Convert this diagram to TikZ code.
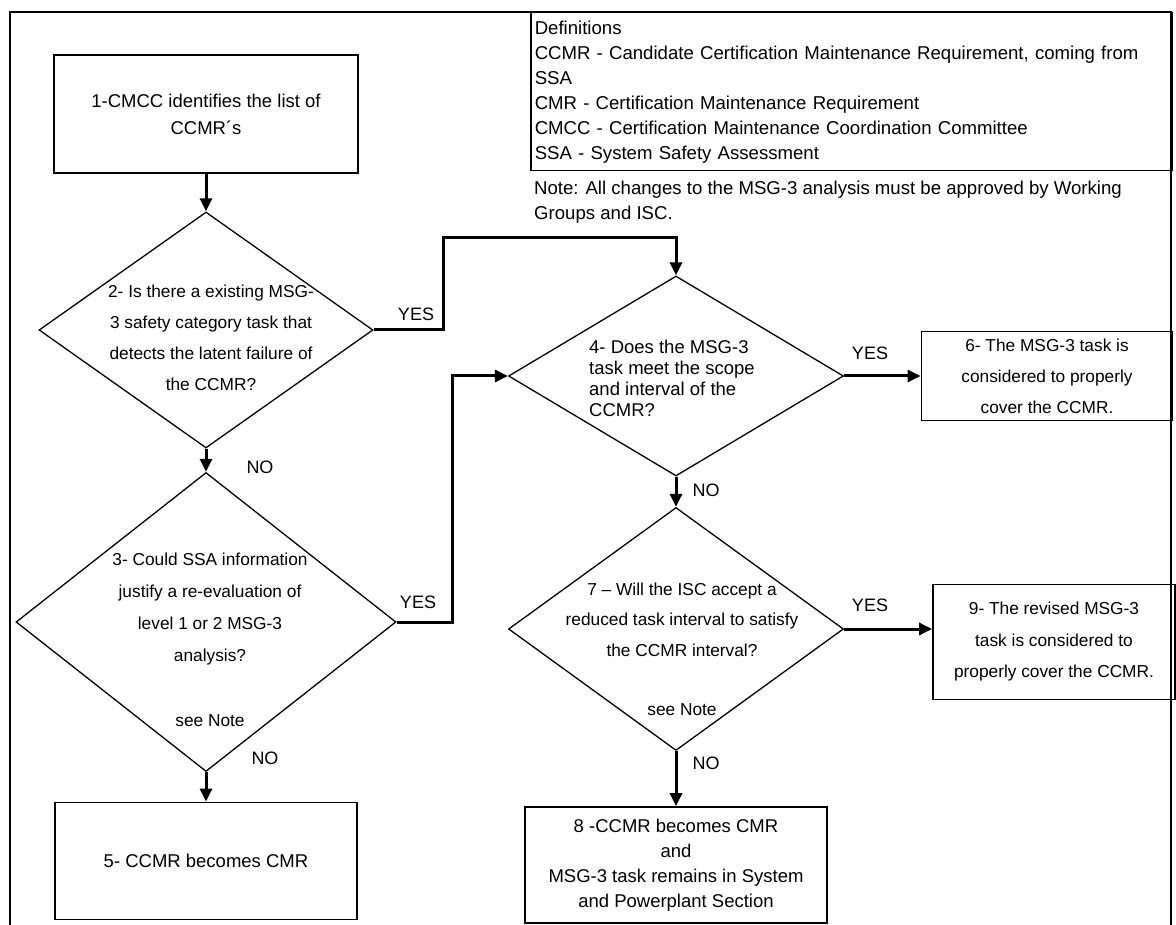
\documentclass[tikz,border=0pt]{standalone}
\usepackage{fontspec}
\setmainfont{Liberation Sans}
\usetikzlibrary{positioning, arrows.meta, shapes.geometric, calc}

\begin{document}
\begin{tikzpicture}[x=1pt, y=-1pt,
  box/.style={draw, line width=1.8pt, inner sep=0pt, align=center},
  decision/.style={draw, diamond, line width=1.3pt, inner sep=0pt},
  txt/.style={inner sep=0pt, align=center},
  flow/.style={line width=3pt, -{Triangle[length=13pt, width=12pt]}},
  bigfont/.style={font=\fontsize{18.5}{#1}\selectfont},
  smallfont/.style={font=\fontsize{17.3}{#1}\selectfont}]
  \useasboundingbox (0,0) rectangle (1176,925);
  % Frame and definitions
  \draw[line width=1.8pt] (10,925) -- (10,12) -- (1171,12) -- (1171,925);
  \node[box, line width=1.5pt, anchor=north west, minimum width=641pt, minimum height=158pt,
        text width=633pt, align=left, inner xsep=4pt, font=\fontsize{18.6}{25}\selectfont] (defs) at (530,12)
    {Definitions\\
     CCMR - Candidate Certification Maintenance Requirement, coming from\\
     SSA\\
     CMR - Certification Maintenance Requirement\\
     CMCC - Certification Maintenance Coordination Committee\\
     SSA - System Safety Assessment};
  \node[txt, anchor=west, align=left, font=\fontsize{18.6}{25}\selectfont] (note) at (534,202)
    {Note: All changes to the MSG-3 analysis must be approved by Working\\Groups and ISC.};
  % Boxes
  \node[box, minimum width=304pt, minimum height=118pt, bigfont=27] (b1) at (206,114)
    {1-CMCC identifies the list of\\CCMR´s};
  \node[box, minimum width=302pt, minimum height=117pt, bigfont=25] (b5) at (206,861)
    {5- CCMR becomes CMR};
  \node[box, minimum width=251pt, minimum height=89pt, smallfont=31] (b6) at (1047,376)
    {6- The MSG-3 task is\\considered to properly\\cover the CCMR.};
  \node[box, minimum width=302pt, minimum height=116pt, bigfont=25] (b8) at (676,865)
    {8 -CCMR becomes CMR\\and\\MSG-3 task remains in System\\and Powerplant Section};
  \node[box, minimum width=242pt, minimum height=115pt, smallfont=31.5] (b9) at (1054,642)
    {9- The revised MSG-3\\task is considered to\\properly cover the CCMR.};
  % Decisions
  \node[decision, minimum width=334pt, minimum height=236pt] (d2) at (206,330) {};
  \node[txt, smallfont=31] (d2text) at (211,338)
    {2- Is there a existing MSG-\\3 safety category task that\\detects the latent failure of\\the CCMR?};
  \node[decision, minimum width=380pt, minimum height=299pt] (d3) at (206,622) {};
  \node[txt, smallfont=32] (d3text) at (210,640)
    {3- Could SSA information\\justify a re-evaluation of\\level 1 or 2 MSG-3\\analysis?\\[33pt]see Note};
  \node[decision, minimum width=335pt, minimum height=200pt] (d4) at (676,376) {};
  \node[txt, anchor=west, align=left, bigfont=21] (d4text) at (589,378)
    {4- Does the MSG-3\\task meet the scope\\and interval of the\\CCMR?};
  \node[decision, minimum width=335pt, minimum height=243pt] (d7) at (676,629) {};
  \node[txt, smallfont=30.5] (d7text) at (682,649)
    {7 – Will the ISC accept a\\reduced task interval to satisfy\\the CCMR interval?\\[28.5pt]see Note};
  % Connectors
  \coordinate (c1) at (443,238);
  \coordinate (c2) at (452,376);
  \draw[flow] (b1) -- (d2);
  \draw[flow] (d2.east) -| (c1) -| (d4.north);
  \draw[flow] (d2) -- (d3);
  \draw[flow] (d3.east) -| (c2) -- (d4.west);
  \draw[flow] (d3) -- (b5);
  \draw[flow] (d4) -- (b6);
  \draw[flow] (d4) -- (d7);
  \draw[flow] (d7.east) -- (d7.east -| b9.west);
  \draw[flow] (d7) -- (b8);
  % Answers
  \foreach \lbl/\x/\y [count=\i] in {YES/416/314, NO/260/467, YES/418/602, NO/265/758,
                                     YES/870/353, NO/706/490, YES/870/605, NO/706/763}
    \node[inner sep=0pt, font=\fontsize{18}{20}\selectfont] (ans\i) at (\x,\y) {\lbl};
\end{tikzpicture}
\end{document}
